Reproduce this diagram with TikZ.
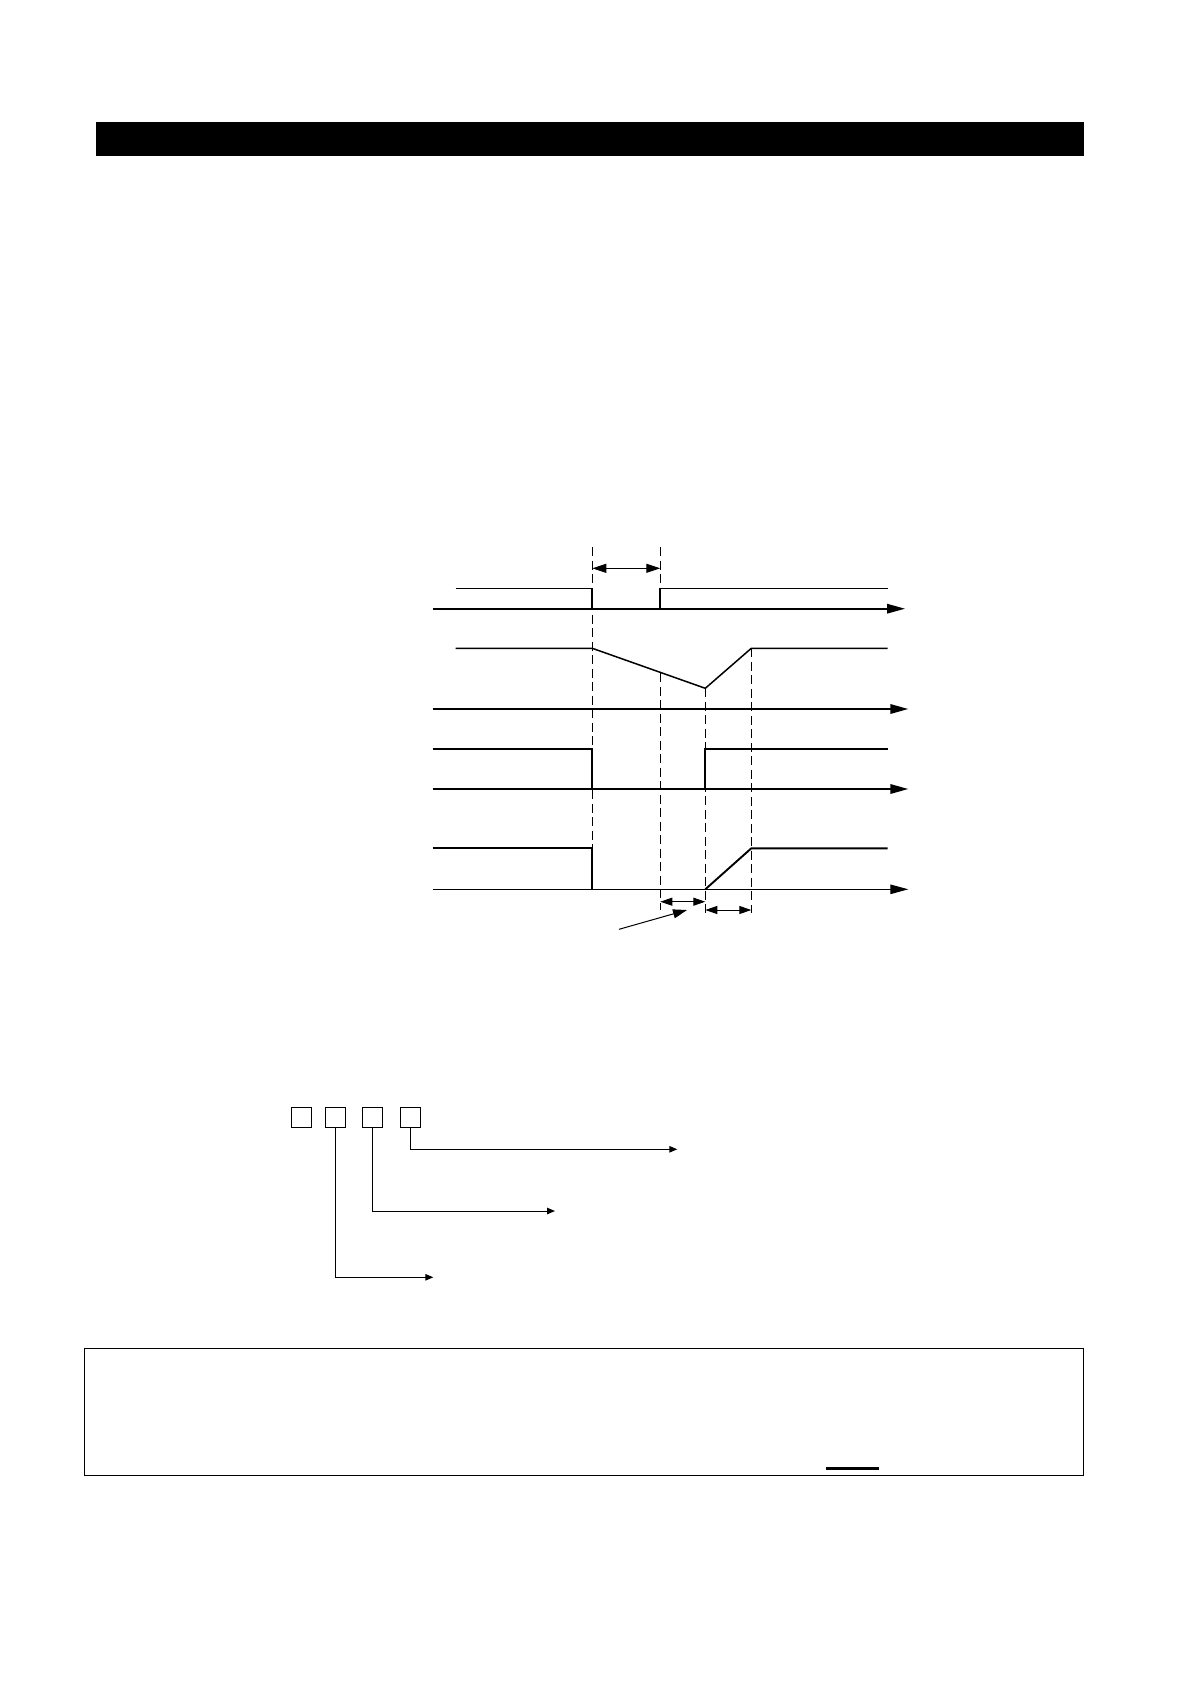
\documentclass[tikz,border=0pt]{standalone}
\usetikzlibrary{arrows.meta}
\begin{document}
\begin{tikzpicture}[x=1pt,y=-1pt,
  axis/.style={line width=1.7pt,-{Triangle[length=18pt,width=9.5pt]}},
  thinaxis/.style={line width=1.1pt,-{Triangle[length=18pt,width=9.5pt]}},
  guide/.style={line width=1pt,dash pattern=on 9pt off 4.5pt},
  span/.style={line width=1pt,{Triangle[length=14pt,width=9pt]}-{Triangle[length=14pt,width=9pt]}},
  smallspan/.style={line width=1pt,{Triangle[length=12pt,width=8pt]}-{Triangle[length=12pt,width=8pt]}},
  digit/.style={draw,line width=1pt,minimum width=20pt,minimum height=20pt,inner sep=0pt},
  lead/.style={line width=1pt,-{Triangle[length=8pt,width=6.5pt]}}]
\useasboundingbox (0,0) rectangle (1190,1684);
% top black bar
\fill[black] (96,122) rectangle (1084,155.7);
% guide lines (dashed)
\draw[guide] (592.3,547) -- (592.3,889);
\draw[guide] (660.3,547) -- (660.3,608);
\draw[guide] (660.3,673) -- (660.3,910);
\draw[guide] (705.3,688.3) -- (705.3,915);
\draw[guide] (751.3,648.3) -- (751.3,913);
% top span arrow
\coordinate (sa) at (592.3,568.3);
\coordinate (sb) at (660.3,568.3);
\draw[span] (sa) -- (sb);
% signal 1
\draw[line width=1pt] (455.7,588.3) -- (592.3,588.3);
\draw[line width=1.7pt] (592.3,588.3) -- (592.3,608.7);
\draw[line width=1.7pt] (660.3,608.7) -- (660.3,588.3);
\draw[line width=1pt] (660.3,588.3) -- (887.7,588.3);
\coordinate (a1s) at (432.7,608.7);
\coordinate (a1e) at (905,608.7);
\draw[axis] (a1s) -- (a1e);
% signal 2
\draw[line width=1.5pt,line join=miter] (455.7,648.3) -- (592.3,648.3) -- (705.3,688.3) -- (751.3,648.3) -- (887.7,648.3);
\coordinate (a2s) at (432.7,709);
\coordinate (a2e) at (908.3,709);
\draw[axis] (a2s) -- (a2e);
% signal 3
\draw[line width=1.9pt,line join=miter] (432.7,749) -- (592.3,749) -- (592.3,789);
\draw[line width=1.9pt,line join=miter] (705.3,789) -- (705.3,749) -- (887.7,749);
\coordinate (a3s) at (432.7,789);
\coordinate (a3e) at (908.3,789);
\draw[axis] (a3s) -- (a3e);
% signal 4
\draw[line width=1.9pt,line join=miter] (432.7,848.3) -- (592.3,848.3) -- (592.3,889.3);
\draw[line width=1.9pt,line join=miter] (705.3,889.3) -- (751.3,848.3) -- (887.7,848.3);
\coordinate (a4s) at (432.7,889.3);
\coordinate (a4e) at (908.3,889.3);
\draw[thinaxis] (a4s) -- (a4e);
% small spans
\coordinate (ta) at (660.3,901.7);
\coordinate (tb) at (705.3,901.7);
\draw[smallspan] (ta) -- (tb);
\coordinate (tc) at (705.3,910);
\coordinate (td) at (751.3,910);
\draw[smallspan] (tc) -- (td);
% leader arrow
\coordinate (l0) at (619,929.3);
\coordinate (l1) at (687,910);
\draw[line width=1pt,-{Triangle[length=14pt,width=9pt]}] (l0) -- (l1);
% digit boxes
\node[digit] (b1) at (301.5,1117.3) {};
\node[digit] (b2) at (335.3,1117.3) {};
\node[digit] (b3) at (372.8,1117.3) {};
\node[digit] (b4) at (410.3,1117.3) {};
\coordinate (e4) at (677.3,1149.3);
\coordinate (e3) at (555,1211);
\coordinate (e2) at (433.3,1277.3);
\draw[lead] (b4.south) |- (e4);
\draw[lead] (b3.south) |- (e3);
\draw[lead] (b2.south) |- (e2);
% bottom box
\draw[line width=1.2pt] (84.3,1348.3) rectangle (1083.3,1475.3);
\draw[line width=2.4pt] (825.5,1468.5) -- (878.5,1468.5);
\end{tikzpicture}
\end{document}
